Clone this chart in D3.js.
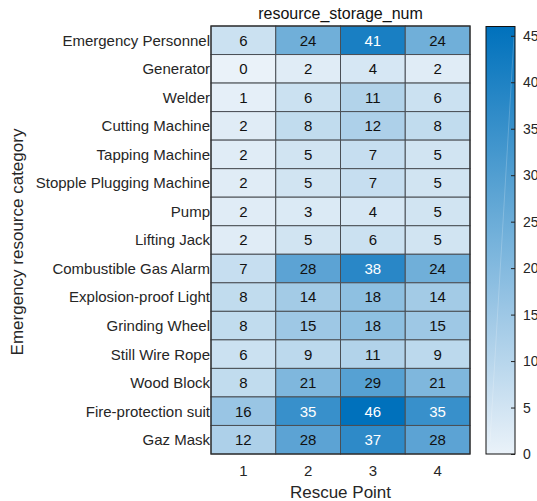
<!DOCTYPE html>
<html>
<head>
<meta charset="utf-8">
<script src="https://cdn.jsdelivr.net/npm/d3@7"></script>
<style>
  body { margin: 0; background: #fff; }
  text { font-family: "Liberation Sans", Arial, sans-serif; }
</style>
</head>
<body>
<svg id="chart" width="537" height="501"></svg>
<script>
const categories = [
  'Emergency Personnel', 'Generator', 'Welder', 'Cutting Machine',
  'Tapping Machine', 'Stopple Plugging Machine', 'Pump', 'Lifting Jack',
  'Combustible Gas Alarm', 'Explosion-proof Light', 'Grinding Wheel',
  'Still Wire Rope', 'Wood Block', 'Fire-protection suit', 'Gaz Mask'
];
const points = ['1', '2', '3', '4'];
const values = [
  [6, 24, 41, 24],
  [0, 2, 4, 2],
  [1, 6, 11, 6],
  [2, 8, 12, 8],
  [2, 5, 7, 5],
  [2, 5, 7, 5],
  [2, 3, 4, 5],
  [2, 5, 6, 5],
  [7, 28, 38, 24],
  [8, 14, 18, 14],
  [8, 15, 18, 15],
  [6, 9, 11, 9],
  [8, 21, 29, 21],
  [16, 35, 46, 35],
  [12, 28, 37, 28]
];
const colorTicks = [0, 5, 10, 15, 20, 25, 30, 35, 40, 45];

const svg = d3.select('#chart');
const mLeft = 211, mRight = 470, mTop = 26, mBottom = 454;

const x = d3.scaleBand().domain(points).range([mLeft, mRight]);
const y = d3.scaleBand().domain(categories).range([mTop, mBottom]);
const maxVal = d3.max(values.flat());
const color = d3.scaleLinear().domain([0, maxVal])
  .range(['rgb(234,242,249)', 'rgb(0,113,188)'])
  .interpolate(d3.interpolateRgb);

const cells = [];
values.forEach((row, i) => row.forEach((v, j) => {
  cells.push({ cat: categories[i], pt: points[j], v });
}));

const g = svg.append('g');
g.selectAll('rect.cell')
  .data(cells)
  .enter()
  .append('rect')
  .attr('class', 'cell')
  .attr('x', d => x(d.pt))
  .attr('y', d => y(d.cat))
  .attr('width', x.bandwidth())
  .attr('height', y.bandwidth())
  .attr('fill', d => color(d.v))
  .attr('stroke', '#4a4f55')
  .attr('stroke-width', 1);

g.selectAll('text.val')
  .data(cells)
  .enter()
  .append('text')
  .attr('class', 'val')
  .attr('x', d => x(d.pt) + x.bandwidth() / 2)
  .attr('y', d => y(d.cat) + y.bandwidth() / 2)
  .attr('dy', '0.36em')
  .attr('text-anchor', 'middle')
  .attr('font-size', 15)
  .attr('fill', d => d.v > 32 ? '#fff' : '#111')
  .text(d => d.v);

g.append('rect')
  .attr('x', mLeft).attr('y', mTop)
  .attr('width', mRight - mLeft).attr('height', mBottom - mTop)
  .attr('fill', 'none')
  .attr('stroke', '#2b2b2b')
  .attr('stroke-width', 1.2);

// row labels
g.selectAll('text.cat')
  .data(categories)
  .enter()
  .append('text')
  .attr('class', 'cat')
  .attr('x', mLeft - 1)
  .attr('y', d => y(d) + y.bandwidth() / 2)
  .attr('dy', '0.36em')
  .attr('text-anchor', 'end')
  .attr('font-size', 15)
  .attr('fill', '#262626')
  .text(d => d);

// column labels
g.selectAll('text.pt')
  .data(points)
  .enter()
  .append('text')
  .attr('class', 'pt')
  .attr('x', d => x(d) + x.bandwidth() / 2)
  .attr('y', 471)
  .attr('dy', '0.36em')
  .attr('text-anchor', 'middle')
  .attr('font-size', 15)
  .attr('fill', '#262626')
  .text(d => d);

svg.append('text')
  .attr('x', (mLeft + mRight) / 2).attr('y', 498)
  .attr('text-anchor', 'middle')
  .attr('font-size', 17)
  .attr('fill', '#262626')
  .text('Rescue Point');

svg.append('text')
  .attr('transform', `translate(23, ${(mTop + mBottom) / 2 + 2}) rotate(-90)`)
  .attr('text-anchor', 'middle')
  .attr('font-size', 17)
  .attr('fill', '#262626')
  .text('Emergency resource category');

svg.append('text')
  .attr('x', (mLeft + mRight) / 2).attr('y', 19)
  .attr('text-anchor', 'middle')
  .attr('font-size', 16)
  .attr('fill', '#111')
  .text('resource_storage_num');

// colorbar
const cbLeft = 486, cbRight = 515;
const cy = d3.scaleLinear().domain([0, maxVal]).range([mBottom, mTop + 0.5]);
const defs = svg.append('defs');
const grad = defs.append('linearGradient')
  .attr('id', 'cbgrad')
  .attr('x1', 0).attr('y1', 1).attr('x2', 0).attr('y2', 0);
d3.range(0, 1.0001, 0.1).forEach(t => {
  grad.append('stop')
    .attr('offset', t)
    .attr('stop-color', color(t * maxVal));
});
svg.append('rect')
  .attr('x', cbLeft).attr('y', cy(maxVal))
  .attr('width', cbRight - cbLeft)
  .attr('height', cy(0) - cy(maxVal))
  .attr('fill', 'url(#cbgrad)');
svg.append('line')
  .attr('x1', cbLeft + 4).attr('y1', cy(0) - 12)
  .attr('x2', cbRight - 1).attr('y2', cy(maxVal) + 10)
  .attr('stroke', '#fff').attr('stroke-opacity', 0.25).attr('stroke-width', 0.8);
svg.append('rect')
  .attr('x', cbLeft).attr('y', cy(maxVal))
  .attr('width', cbRight - cbLeft)
  .attr('height', cy(0) - cy(maxVal))
  .attr('fill', 'none')
  .attr('stroke', '#111')
  .attr('stroke-width', 1);

const cbAxis = d3.axisRight(cy).tickValues(colorTicks).tickSize(-4).tickPadding(8);
const ax = svg.append('g')
  .attr('transform', `translate(${cbRight},0)`)
  .call(cbAxis);
ax.select('.domain').remove();
ax.selectAll('line').attr('stroke', '#222');
ax.selectAll('text')
  .attr('font-size', 14)
  .attr('fill', '#262626')
  .attr('font-family', '"Liberation Sans", Arial, sans-serif');
</script>
</body>
</html>
